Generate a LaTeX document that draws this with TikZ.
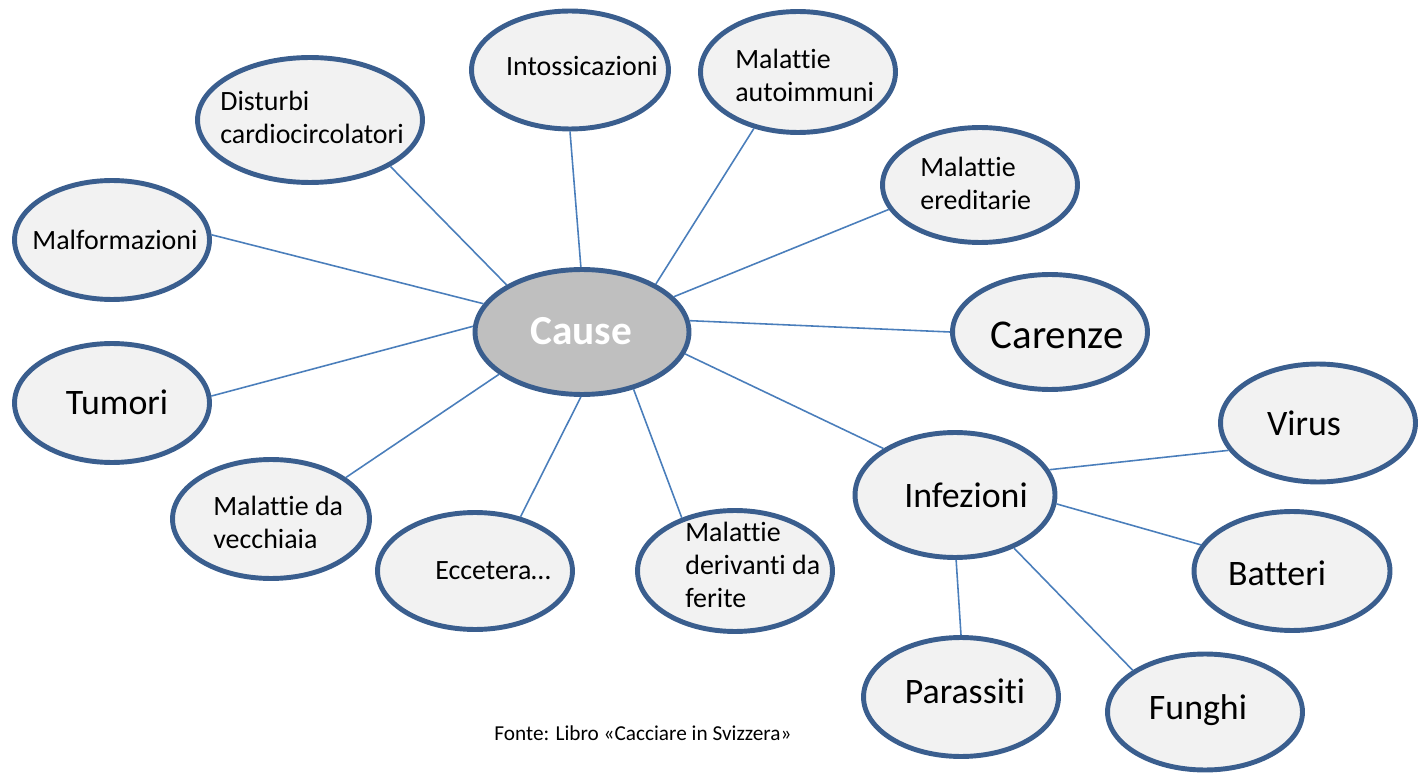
\documentclass[tikz,border=0pt]{standalone}
\usepackage{fontspec}
\setmainfont{Carlito}[Ligatures={NoCommon,NoRequired}, Contextuals={NoAlternate}]
\usetikzlibrary{shapes.geometric}
\definecolor{bord}{HTML}{3A5E8E}
\definecolor{conn}{HTML}{4A7EBB}
\definecolor{efill}{HTML}{F2F2F2}
\definecolor{cfill}{HTML}{BFBFBF}
\tikzset{
  bub/.style={ellipse, draw=bord, line width=2.8pt, fill=efill, inner sep=0pt},
  lnk/.style={draw=conn, line width=0.9pt},
  small/.style={inner sep=0pt, font=\fontsize{15.9}{18.7}\selectfont, align=left},
  big/.style={inner sep=0pt, font=\fontsize{20.4}{24}\selectfont},
}
\begin{document}
\begin{tikzpicture}[x=0.02cm,y=-0.02cm]
\useasboundingbox (0,0) rectangle (1420,773);
% bubbles
\node[bub, fill=cfill, minimum width=4.28cm, minimum height=2.5cm] (cause) at (582,332) {};
\node[bub, minimum width=3.94cm, minimum height=2.36cm] (intox) at (570,70) {};
\node[bub, minimum width=3.9cm, minimum height=2.42cm] (auto) at (798,72) {};
\node[bub, minimum width=4.5cm, minimum height=2.5cm] (dist) at (310,120) {};
\node[bub, minimum width=3.9cm, minimum height=2.3cm] (ered) at (980,185) {};
\node[bub, minimum width=3.9cm, minimum height=2.38cm] (malf) at (112,240) {};
\node[bub, minimum width=3.9cm, minimum height=2.3cm] (car) at (1050,332) {};
\node[bub, minimum width=3.9cm, minimum height=2.38cm] (tum) at (112,403) {};
\node[bub, minimum width=4.0cm, minimum height=2.5cm] (inf) at (955,495) {};
\node[bub, minimum width=3.9cm, minimum height=2.36cm] (vir) at (1318,423) {};
\node[bub, minimum width=3.92cm, minimum height=2.38cm] (bat) at (1292,571) {};
\node[bub, minimum width=3.9cm, minimum height=2.32cm] (fun) at (1205,712) {};
\node[bub, minimum width=3.9cm, minimum height=2.38cm] (par) at (961,697) {};
\node[bub, minimum width=3.94cm, minimum height=2.38cm] (vec) at (271,519) {};
\node[bub, minimum width=3.9cm, minimum height=2.34cm] (ecc) at (475,571) {};
\node[bub, minimum width=3.9cm, minimum height=2.42cm] (fer) at (735,571) {};
% connectors
\draw[lnk] (dist.-30) -- (cause.148);
\draw[lnk] (intox.-90) -- (cause.91);
\draw[lnk] (auto.-128) -- (cause.33);
\draw[lnk] (ered.-165) -- (cause.21);
\draw[lnk] (malf.3) -- (cause.164);
\draw[lnk] (tum.4) -- (cause.177);
\draw[lnk] (car.180) -- (cause.6);
\draw[lnk] (inf.147) -- (cause.-12);
\draw[lnk] (vec.29) -- (cause.-153);
\draw[lnk] (ecc.50) -- (cause.-91);
\draw[lnk] (fer.135) -- (cause.-48);
\draw[lnk] (vir.-163) -- (inf.15);
\draw[lnk] (bat.164) -- (inf.-5);
\draw[lnk] (fun.150) -- (inf.-42);
\draw[lnk] (par.90) -- (inf.-89);
% texts
\node[inner sep=0pt, text=white, font=\fontsize{23.5}{28}\selectfont\bfseries] (causeT) at (581,331) {Cause};
\node[small] (intoxT) at (582,66) {Intossicazioni};
\node[small, anchor=west] (autoT) at (735,75) {Malattie\\autoimmuni};
\node[small, anchor=west] (distT) at (220,117) {Disturbi\\cardiocircolatori};
\node[small, anchor=west] (eredT) at (920,183) {Malattie\\ereditarie};
\node[small] (malfT) at (115,240) {Malformazioni};
\node[inner sep=0pt, font=\fontsize{23.3}{28}\selectfont] (carT) at (1057,335) {Carenze};
\node[big] (tumT) at (117,402) {Tumori};
\node[big] (infT) at (966,495) {Infezioni};
\node[big] (virT) at (1304,423) {Virus};
\node[big] (batT) at (1277,573) {Batteri};
\node[big] (funT) at (1198,710) {Funghi};
\node[big] (parT) at (965,691) {Parassiti};
\node[small, anchor=west] (vecT) at (213,522) {Malattie da\\vecchiaia};
\node[small] (eccT) at (493,571) {Eccetera…};
\node[small, anchor=west] (ferT) at (685,565) {Malattie\\derivanti da\\ferite};
\node[inner sep=0pt, font=\fontsize{12.1}{14}\selectfont] (fonte) at (643,733) {Fonte: Libro «Cacciare in Svizzera»};
\end{tikzpicture}
\end{document}
